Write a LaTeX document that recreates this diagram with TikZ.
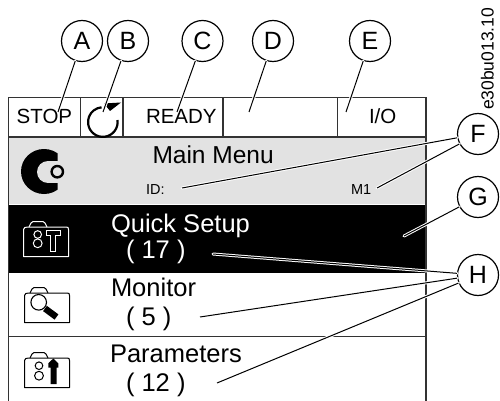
\documentclass[tikz,border=0pt]{standalone}
\usepackage{fontspec}
\setmainfont{Liberation Sans}
\definecolor{panelgray}{HTML}{E2E2E2}
\definecolor{rule}{HTML}{333333}
\tikzset{
  x=1pt,y=-1pt,
  callout/.style={circle,draw=black,line width=1.2pt,fill=white,minimum size=41pt,inner sep=0pt,font=\fontsize{25}{26}\selectfont},
  leader/.style={line width=1pt,black,preaction={draw,white,line width=3pt,line cap=round}},
  txt/.style={anchor=base west,inner sep=0pt,outer sep=0pt},
  status/.style={txt,font=\fontsize{20.5}{22}\selectfont},
  menu/.style={txt,font=\fontsize{25.5}{27}\selectfont},
  small/.style={txt,font=\fontsize{14.5}{16}\selectfont},
  frameline/.style={draw=rule,line width=1.1pt},
  foldericon/.style={line width=1pt,line join=round},
}
\newcommand{\foldershape}[2]{% x-left, y-top
  \draw[foldericon] (#1+0.5,#2+2.5) .. controls (#1+1,#2+0.5) and (#1+2,#2) .. (#1+5,#2) -- (#1+43,#2)
   .. controls (#1+45,#2) and (#1+45.5,#2+0.5) .. (#1+45.5,#2+2.5) -- (#1+45.5,#2+29.5) -- (#1+0.5,#2+29.5) -- cycle;
  \draw[foldericon] (#1+6,#2) -- (#1+8,#2-4) .. controls (#1+8.5,#2-5) and (#1+9,#2-5.5) .. (#1+10,#2-5.5) -- (#1+20,#2-5.5) .. controls (#1+21,#2-5.5) and (#1+21.5,#2-5) .. (#1+22,#2-4) -- (#1+24,#2);
}
\begin{document}
\begin{tikzpicture}
\useasboundingbox (0,0) rectangle (500,401);
\fill[white] (0,0) rectangle (500,401);
% panel
\fill[panelgray] (8.5,137) rectangle (426,204);
\fill[black] (8.5,204.5) rectangle (426,272.5);
\draw[frameline] (8.5,401) -- (8.5,97.5) -- (426,97.5) -- (426,401);
\draw[frameline] (8.5,137) -- (426,137);
\draw[frameline] (8.5,336.5) -- (426,336.5);
\draw[frameline] (80.5,97.5) -- (80.5,137);
\draw[frameline] (123,97.5) -- (123,137);
\draw[frameline] (223,97.5) -- (223,137);
\draw[frameline] (337.5,97.5) -- (337.5,137);
% status texts
\node[status] (stop) at (16.7,124) {STOP};
\node[status] (ready) at (146,124) {READY};
\node[status] (io) at (369,124) {I/O};
% rotation symbol
\draw[line width=2.2pt] (117.5,120) arc[start angle=8,end angle=-265,x radius=14.8,y radius=-14.8];
\fill (121,102.5) -- (104,103.5) -- (110,111) -- cycle;
% logo
\begin{scope}
 \clip (15,145) rectangle (57.7,198);
 \fill[black] (44,171.5) ellipse[x radius=23,y radius=22.5];
\end{scope}
\fill[panelgray] (48,172) circle[radius=11];
\fill[panelgray] (48,161) rectangle (59,183);
\draw[black,line width=2.4pt,fill=panelgray] (57.3,171.7) circle[radius=5.7];
% menu texts
\node[txt,font=\fontsize{24.5}{26}\selectfont] (mainmenu) at (152.5,163) {Main Menu};
\node[small] (idt) at (146,194) {ID:};
\node[small] (mone) at (351,194) {M1};
\node[menu,white] (quick) at (111,232) {Quick Setup};
\node[menu,white] (qn) at (126,258) {( 17 )};
\node[menu] (mon) at (111,296) {Monitor};
\node[menu] (mn) at (126,325) {( 5 )};
\node[menu] (par) at (110,362) {Parameters};
\node[menu] (pn) at (126,391) {( 12 )};
% quick setup icon
\begin{scope}[white,draw=white]
 \foldershape{23}{227}
 \draw[line width=1pt] (37.7,234.5) circle[radius=3.8];
 \draw[line width=1pt] (37.7,243.3) circle[radius=4.4];
 \draw[line width=1pt] (50.7,251.7) -- (50.7,235.7) -- (46.7,235.7) -- (46.7,230.7) -- (60,230.7) -- (60,235.7) -- (55,235.7) -- (55,251.7) -- cycle;
\end{scope}
% monitor icon
\foldershape{24}{293}
\draw[line width=6.5pt] (45,308.5) -- (56.5,317);
\draw[line width=1.1pt,fill=white] (38.7,302.3) circle[radius=7.8];
% parameters icon
\foldershape{24}{358}
\draw[line width=1pt] (39,365.7) circle[radius=3.8];
\draw[line width=1pt] (39,375.7) circle[radius=4.4];
\fill (50.5,384) -- (50.5,367.7) -- (48.3,367.7) -- (48.3,363.3) -- (53.3,358.5) -- (58.3,363.3) -- (58.3,367.7) -- (56.5,367.7) -- (56.5,384) -- cycle;
% id code
\node[txt,rotate=90,font=\fontsize{17.5}{19}\selectfont] (code) at (493.5,110) {e30bu013.10};
% callouts
\node[callout] (A) at (82,41) {A};
\node[callout] (B) at (128,41) {B};
\node[callout] (C) at (202.5,41) {C};
\node[callout] (D) at (273,41) {D};
\node[callout] (E) at (370,41) {E};
\node[callout] (F) at (478,134) {F};
\node[callout] (G) at (478,197) {G};
\node[callout] (H) at (478,275) {H};
\coordinate (a1) at (58,112);
\coordinate (b1) at (103,112);
\coordinate (c1) at (177,112);
\coordinate (d1) at (249,112);
\coordinate (e1) at (346,112);
\coordinate (f1) at (182,188);
\coordinate (f2) at (377,188);
\coordinate (g1) at (404,236);
\coordinate (h1) at (213,254);
\coordinate (h2) at (200,317);
\coordinate (h3) at (217,383);
\draw[leader] (A) -- (a1);
\draw[leader] (B) -- (b1);
\draw[leader] (C) -- (c1);
\draw[leader] (D) -- (d1);
\draw[leader] (E) -- (e1);
\draw[leader] (F) -- (f1);
\draw[leader] (F) -- (f2);
\draw[leader] (G) -- (g1);
\draw[leader] (H) -- (h1);
\draw[leader] (H) -- (h2);
\draw[leader] (H) -- (h3);
\end{tikzpicture}
\end{document}
